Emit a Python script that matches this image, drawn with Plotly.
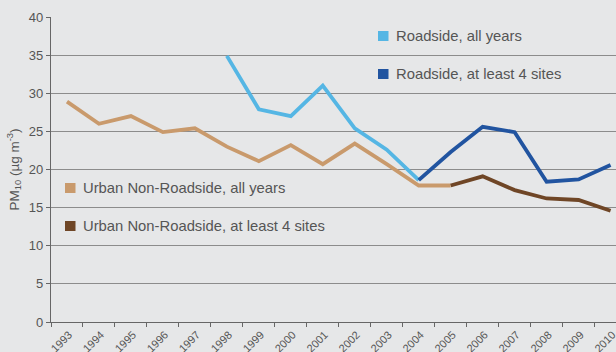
import plotly.graph_objects as go

years = [str(y) for y in range(1993, 2011)]
urban_all = [28.9, 26.0, 27.0, 24.9, 25.4, 23.0, 21.1, 23.2, 20.7, 23.4, 20.7, 17.9, 17.9,
             None, None, None, None, None]
urban_4 = [None] * 12 + [17.9, 19.1, 17.3, 16.2, 16.0, 14.6]
road_all = [None] * 5 + [34.9, 27.9, 27.0, 31.0, 25.4, 22.6, 18.6] + [None] * 6
road_4 = [None] * 11 + [18.6, 22.3, 25.6, 24.9, 18.4, 18.7, 20.6]

series = [
    ("Urban Non-Roadside, all years", urban_all, "#c99a6c"),
    ("Urban Non-Roadside, at least 4 sites", urban_4, "#6f4626"),
    ("Roadside, all years", road_all, "#55b6e4"),
    ("Roadside, at least 4 sites", road_4, "#2154a0"),
]

fig = go.Figure()
for name, vals, col in series:
    fig.add_trace(go.Scatter(x=years, y=vals, name=name, mode="lines",
                             line=dict(color=col, width=3.8), showlegend=False))

bg = "#e6e7e8"
txt = "#555555"
L, B, W, H = 51, 30, 565, 305
fig.update_layout(
    width=616, height=352,
    margin=dict(l=L, r=0, t=17, b=B),
    paper_bgcolor=bg, plot_bgcolor=bg,
    font=dict(family="Liberation Sans, Arial, sans-serif", color=txt, size=12),
    xaxis=dict(type="category", range=[-0.5, 17.17], tickangle=-45,
               tickson="boundaries", ticks="outside", ticklen=4, tickcolor="#666",
               showline=True, linecolor="#666", linewidth=1.2, showgrid=False,
               ticklabelstandoff=1, ticklabelshift=2, automargin=False,
               tickfont=dict(size=11, color=txt)),
    yaxis=dict(range=[0, 40], dtick=5, ticks="outside", ticklen=4, tickcolor="#666",
               showline=True, linecolor="#666", linewidth=1.2,
               showgrid=True, gridcolor="#8c8c8c", gridwidth=1, zeroline=False,
               automargin=False,
               tickfont=dict(size=13, color=txt),
               title=dict(text="PM<sub>10</sub> (µg m<sup>-3</sup>)", standoff=6,
                          font=dict(size=13.5, color=txt))),
)

# legend entries: (text, colour, square left px, centre y px)
legend_items = [
    ("Roadside, all years", "#55b6e4", 378, 36),
    ("Roadside, at least 4 sites", "#2154a0", 378, 74),
    ("Urban Non-Roadside, all years", "#c99a6c", 65, 188),
    ("Urban Non-Roadside, at least 4 sites", "#6f4626", 65, 226),
]
for text, col, xpix, ypix in legend_items:
    fig.add_shape(type="rect", xref="paper", yref="paper",
                  x0=(xpix - L) / W, x1=(xpix + 10.5 - L) / W,
                  y0=(352 - ypix - 5 - B) / H, y1=(352 - ypix + 5 - B) / H,
                  fillcolor=col, line=dict(width=0), layer="above")
    fig.add_annotation(xref="paper", yref="paper",
                       x=(xpix + 16 - L) / W, y=(352 - ypix - B) / H,
                       text=text, showarrow=False, xanchor="left", yanchor="middle",
                       font=dict(size=14.8, color=txt))

fig.write_html("out.html")
